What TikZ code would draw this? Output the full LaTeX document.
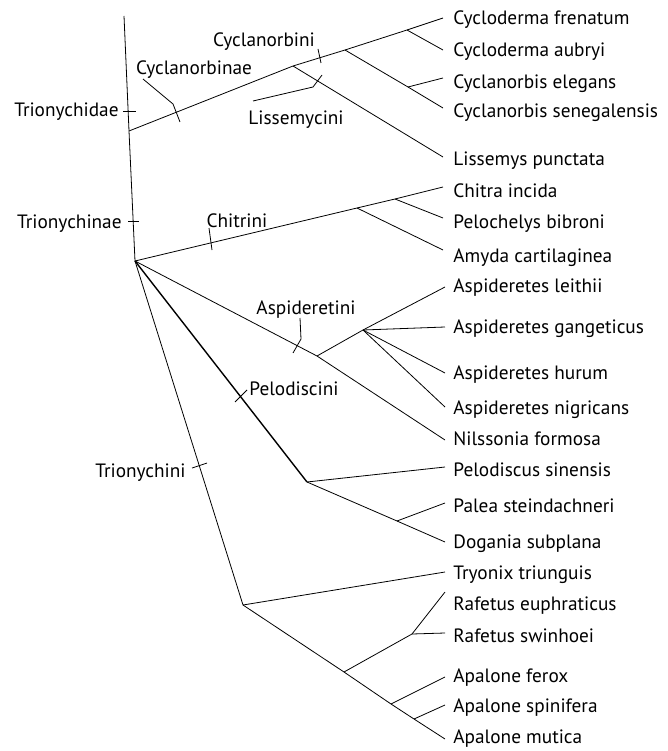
\documentclass[tikz,border=0pt]{standalone}
\usepackage{fontspec}
\setmainfont{PT Sans}
\usepackage{tikz}

\begin{document}
\begin{tikzpicture}[x=1pt, y=-1pt, line width=0.8pt,
        taxon/.style={font={\fontsize{19.3}{23}\selectfont}, inner sep=0pt, anchor=base west},
        clade/.style={font={\fontsize{19.3}{23}\selectfont}, inner sep=0pt, anchor=base}]
        \useasboundingbox (0,0) rectangle (668,751);

        % internal nodes
        \coordinate (root) at (124,16);
        \coordinate (trid) at (129,131);
        \coordinate (trin) at (135,261);
        \coordinate (cyc) at (293,66);
        \coordinate (cycl) at (345,50);
        \coordinate (cyclod) at (407,30);
        \coordinate (cyclan) at (408,87);
        \coordinate (chit) at (357,208);
        \coordinate (chitp) at (395,199);
        \coordinate (asp) at (317,356);
        \coordinate (aspa) at (363,330);
        \coordinate (pelo) at (307,482);
        \coordinate (pelop) at (397,521);
        \coordinate (trio) at (243,605);
        \coordinate (raap) at (344,672);
        \coordinate (raf) at (412,634);
        \coordinate (apa) at (391,704);
        \coordinate (apas) at (414,719);

        % leaf tips
        \coordinate (t1) at (443,18);
        \coordinate (t2) at (443,50);
        \coordinate (t3) at (443,78);
        \coordinate (t4) at (443,108);
        \coordinate (t5) at (443,157);
        \coordinate (t6) at (443,187);
        \coordinate (t7) at (443,218);
        \coordinate (t8) at (443,250);
        \coordinate (t9) at (445,287);
        \coordinate (t10) at (445,327);
        \coordinate (t11) at (445,373);
        \coordinate (t12) at (445,407);
        \coordinate (t13) at (445,440);
        \coordinate (t14) at (445,467);
        \coordinate (t15) at (445,503);
        \coordinate (t16) at (445,542);
        \coordinate (t17) at (445,572);
        \coordinate (t18) at (445,592);
        \coordinate (t19) at (445,633);
        \coordinate (t20) at (445,677);
        \coordinate (t21) at (445,705);
        \coordinate (t22) at (445,739);

        % taxa
        \node[taxon] (frenatum) at (453,25) {Cycloderma frenatum};
        \node[taxon] (aubryi) at (453,57) {Cycloderma aubryi};
        \node[taxon] (elegans) at (453,89) {Cyclanorbis elegans};
        \node[taxon] (senegalensis) at (453,118) {Cyclanorbis senegalensis};
        \node[taxon] (punctata) at (453,166) {Lissemys punctata};
        \node[taxon] (incida) at (453,197) {Chitra incida};
        \node[taxon] (bibroni) at (453,229) {Pelochelys bibroni};
        \node[taxon] (cartilaginea) at (453,262) {Amyda cartilaginea};
        \node[taxon] (leithii) at (453,292) {Aspideretes leithii};
        \node[taxon] (gangeticus) at (453,333) {Aspideretes gangeticus};
        \node[taxon] (hurum) at (453,379) {Aspideretes hurum};
        \node[taxon] (nigricans) at (453,414) {Aspideretes nigricans};
        \node[taxon] (formosa) at (453,445) {Nilssonia formosa};
        \node[taxon] (sinensis) at (453,476) {Pelodiscus sinensis};
        \node[taxon] (steindachneri) at (453,512) {Palea steindachneri};
        \node[taxon] (subplana) at (453,548) {Dogania subplana};
        \node[taxon] (triunguis) at (453,579) {Tryonix triunguis};
        \node[taxon] (euphraticus) at (453,610) {Rafetus euphraticus};
        \node[taxon] (swinhoei) at (453,642) {Rafetus swinhoei};
        \node[taxon] (ferox) at (453,682) {Apalone ferox};
        \node[taxon] (spinifera) at (453,712) {Apalone spinifera};
        \node[taxon] (mutica) at (453,743) {Apalone mutica};

        % trunk
        \draw (root) -- (trid) -- (trin);

        % Cyclanorbinae
        \draw (trid) -- (cyc) -- (cycl) -- (cyclod) -- (t1);
        \draw (cyclod) -- (t2);
        \draw (cycl) -- (cyclan) -- (t4);
        \draw (cyclan) -- (t3);
        \draw (cyc) -- (t5);

        % Chitrini
        \draw (trin) -- (chit) -- (chitp) -- (t6);
        \draw (chitp) -- (t7);
        \draw (chit) -- (t8);

        % Aspideretini
        \draw (trin) -- (asp) -- (aspa) -- (t9);
        \draw (aspa) -- (t10);
        \draw (aspa) -- (t11);
        \draw (aspa) -- (t12);
        \draw (asp) -- (t13);

        % Pelodiscini
        \draw[line width=1.4pt] (trin) -- (pelo);
        \draw (pelo) -- (t14);
        \draw (pelo) -- (pelop) -- (t16);
        \draw (pelop) -- (t15);

        % Trionychini
        \draw (trin) -- (trio) -- (t17);
        \draw (trio) -- (raap) -- (raf) -- (t18);
        \draw (raf) -- (t19);
        \draw (raap) -- (apa) -- (apas) -- (t22);
        \draw (apa) -- (t20);
        \draw (apas) -- (t21);

        % clade names
        \node[clade, anchor=base east] (ltrid) at (119,117) {Trionychidae};
        \node[clade, anchor=base east] (ltrin) at (122,228) {Trionychinae};
        \node[clade] (lcyc) at (194,75) {Cyclanorbinae};
        \node[clade] (lcycl) at (264,47) {Cyclanorbini};
        \node[clade] (lliss) at (296,125) {Lissemycini};
        \node[clade] (lchit) at (237,227) {Chitrini};
        \node[clade] (lasp) at (306,314) {Aspideretini};
        \node[clade] (lpelo) at (294,395) {Pelodiscini};
        \node[clade, anchor=base east] (ltrio) at (186,477) {Trionychini};

        % ticks
        \coordinate (k1a) at (123,111);
        \coordinate (k1b) at (136,111);
        \coordinate (k2a) at (128,221);
        \coordinate (k2b) at (139,221);
        \coordinate (k3a) at (143,79);
        \coordinate (k3b) at (173,104);
        \coordinate (k3c) at (180,122);
        \coordinate (k4a) at (318,49);
        \coordinate (k4b) at (321,63);
        \coordinate (k5a) at (253,101);
        \coordinate (k5b) at (313,87);
        \coordinate (k5c) at (322,75);
        \coordinate (k6a) at (209,228);
        \coordinate (k6b) at (212,250);
        \coordinate (k7a) at (300,318);
        \coordinate (k7b) at (301,339);
        \coordinate (k7c) at (293,353);
        \coordinate (k8a) at (247,390);
        \coordinate (k8b) at (235,402);
        \coordinate (k9a) at (192,468);
        \coordinate (k9b) at (207,463);
        \draw (k1a) -- (k1b);
        \draw (k2a) -- (k2b);
        \draw (k3a) -- (k3b) -- (k3c);
        \draw (k4a) -- (k4b);
        \draw (k5a) -- (k5b) -- (k5c);
        \draw (k6a) -- (k6b);
        \draw (k7a) -- (k7b) -- (k7c);
        \draw (k8a) -- (k8b);
        \draw (k9a) -- (k9b);

    \end{tikzpicture}
\end{document}
